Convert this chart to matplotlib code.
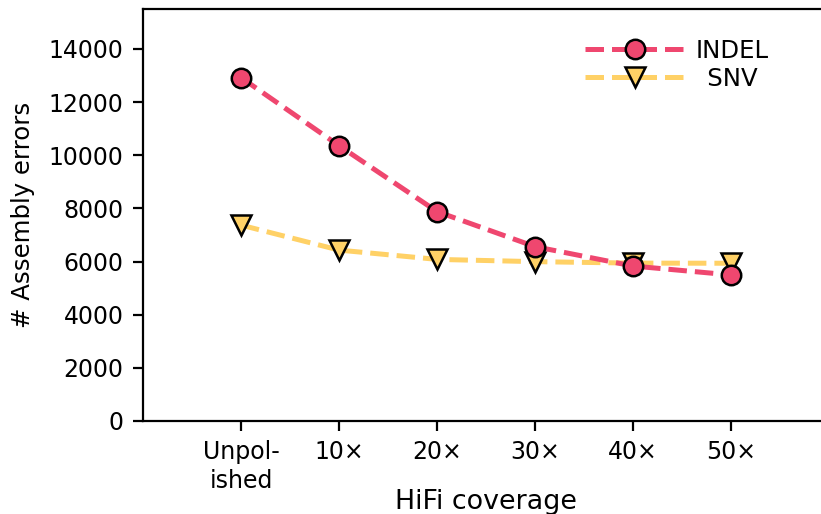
import matplotlib
matplotlib.use("Agg")
import matplotlib.pyplot as plt

categories = ["Unpol-\nished", "10×", "20×", "30×", "40×", "50×"]
indel = [12920, 10360, 7880, 6560, 5830, 5495]
snv = [7370, 6430, 6080, 5995, 5940, 5935]
series_labels = ["INDEL", "\u2002SNV"]
yticks = [0, 2000, 4000, 6000, 8000, 10000, 12000, 14000]

fig = plt.figure(figsize=(8.21 / 2, 5.14 / 2), dpi=200)
ax = fig.add_axes([143 / 821, 93 / 514, (829 - 143) / 821, (421 - 9) / 514])

x = list(range(len(categories)))
ax.plot(x, indel, linestyle="--", color="#EF476F", lw=1.8, marker="o",
        markersize=7, markerfacecolor="#EF476F", markeredgecolor="black",
        markeredgewidth=0.9, label=series_labels[0], zorder=3)
ax.plot(x, snv, linestyle="--", color="#FFD166", lw=1.8, marker="v",
        markersize=7, markerfacecolor="#FFD166", markeredgecolor="black",
        markeredgewidth=0.9, label=series_labels[1], zorder=2)

ax.set_xlim(-1, 6)
ax.set_ylim(0, 15500)
ax.set_xticks(x)
ax.set_xticklabels(categories, fontsize=8.5, linespacing=1.25)
ax.set_yticks(yticks)
ax.set_yticklabels([str(v) for v in yticks], fontsize=8.5)
ax.set_xlabel("HiFi coverage", fontsize=9.7, labelpad=-1.5)
ax.set_ylabel("# Assembly errors", fontsize=8.8, labelpad=5)

leg = fig.legend(loc="upper left", bbox_to_anchor=(585 / 821, 1 - 39 / 514),
                 frameon=False, fontsize=8.8, handlelength=4.1, handletextpad=0.41,
                 labelspacing=0.15, borderpad=0, borderaxespad=0, numpoints=1)

fig.savefig("out.png", dpi=200)
